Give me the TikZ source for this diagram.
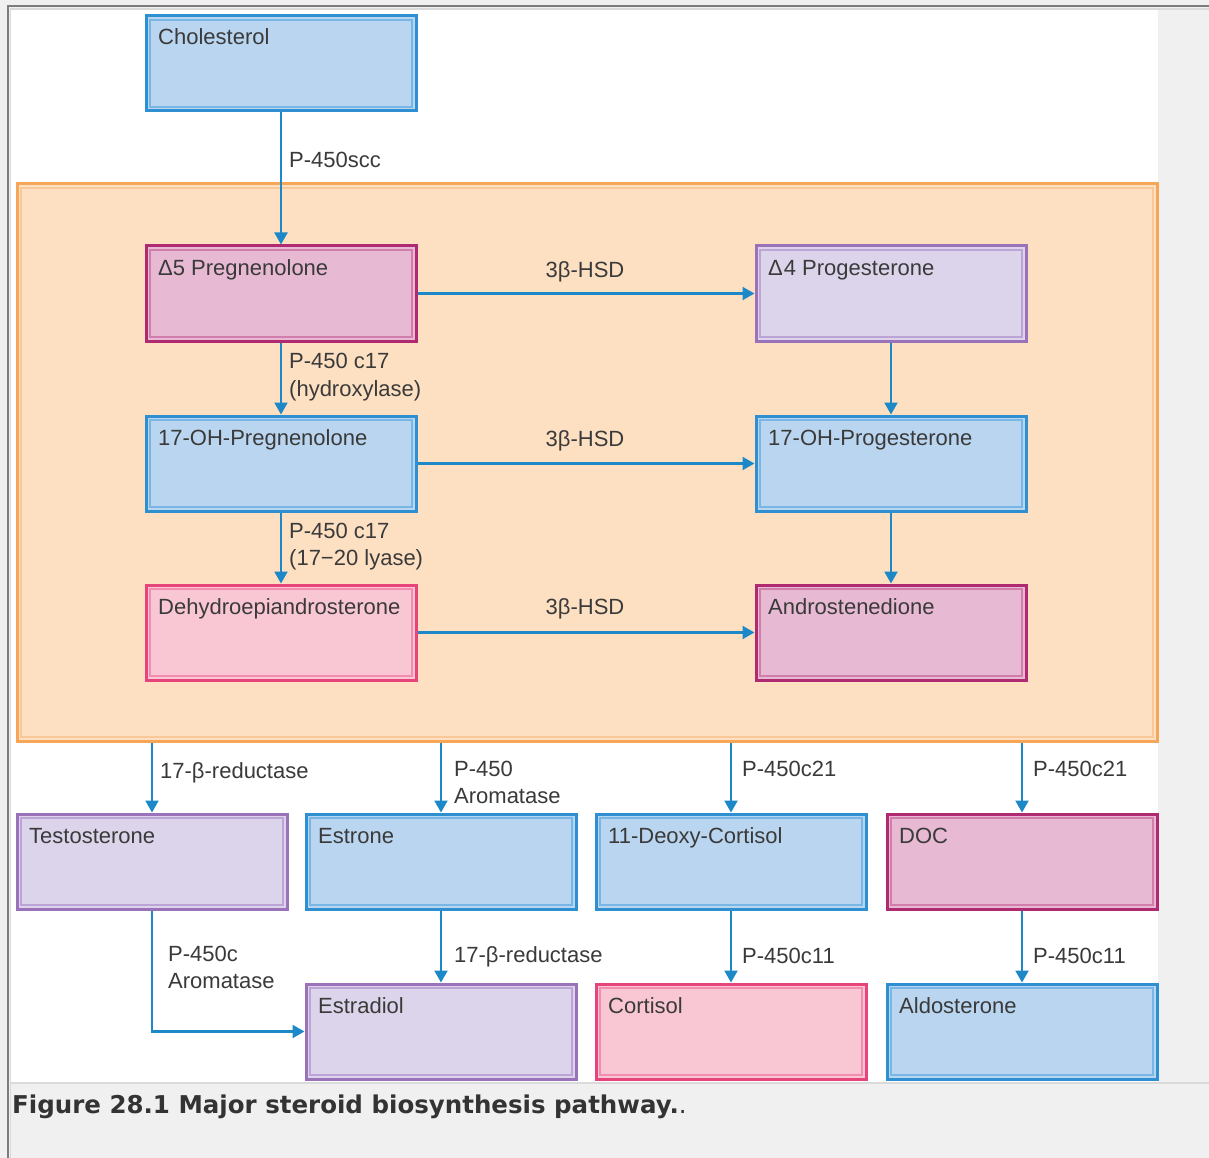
\documentclass[tikz,border=0pt]{standalone}
\usepackage{fontspec}
\setmainfont{Liberation Sans}
\newfontfamily\capfont{DejaVu Sans}
\usetikzlibrary{calc,arrows.meta}

\definecolor{bluedk}{HTML}{2E90D0}
\definecolor{bluefill}{HTML}{B9D5EF}
\definecolor{bluein}{HTML}{78B6E6}
\definecolor{magdk}{HTML}{B02A72}
\definecolor{magfill}{HTML}{E7B9D3}
\definecolor{magin}{HTML}{D27EAC}
\definecolor{purdk}{HTML}{9A72BA}
\definecolor{purfill}{HTML}{DCD4EA}
\definecolor{purin}{HTML}{BCA4D6}
\definecolor{pinkdk}{HTML}{E8447C}
\definecolor{pinkfill}{HTML}{F9C7D3}
\definecolor{pinkin}{HTML}{F28CB0}
\definecolor{ordk}{HTML}{F5A656}
\definecolor{orfill}{HTML}{FDE0C2}
\definecolor{orin}{HTML}{F8C898}
\definecolor{arrowc}{HTML}{1C88C8}
\definecolor{txt}{HTML}{3A3A3A}
\definecolor{pagegray}{HTML}{F0F0F0}
\definecolor{rulegray}{HTML}{7C7C7C}
\definecolor{rulelight}{HTML}{DADADA}

\tikzset{
  framed/.style n args={3}{rectangle, inner sep=0pt, draw=#1, fill=#2, line width=3pt,
    path picture={\draw[#3, line width=1.5pt]
      ([shift={(4pt,-4pt)}]path picture bounding box.north west) rectangle
      ([shift={(-4pt,4pt)}]path picture bounding box.south east);}},
  bluebox/.style={framed={bluedk}{bluefill}{bluein}},
  magbox/.style={framed={magdk}{magfill}{magin}},
  purbox/.style={framed={purdk}{purfill}{purin}},
  pinkbox/.style={framed={pinkdk}{pinkfill}{pinkin}},
  zonebox/.style={framed={ordk}{orfill}{orin}},
  boxtext/.style={inner sep=0pt, text=txt, font=\fontsize{22}{26}\selectfont},
  enz/.style={inner sep=0pt, text=txt, font=\fontsize{22}{26}\selectfont},
  arr/.style={draw=arrowc, line width=2.2pt, -{Triangle[length=12pt,width=13pt]}},
}

% compound box: name, left, top (pixels), colour style, label
\newcommand\mkbox[5]{%
  \node[#4, anchor=north west, minimum width=270pt, minimum height=95pt] (#1) at (#2+1.5,#3+1.5) {};
  \node[boxtext, anchor=base west] (#1-t) at ($(#1.north west)+(13.5pt,-30.5pt)$) {#5};
}

\begin{document}
\begin{tikzpicture}[x=1pt,y=-1pt]
  \useasboundingbox (0,0) rectangle (1209,1158);
  % page and panel
  \fill[pagegray] (0,0) rectangle (1209,1158);
  \fill[white] (10,9) rectangle (1158,1082);
  \draw[rulelight, line width=2pt] (10,9) -- (1209,9);
  \draw[rulelight, line width=2pt] (10,1083) -- (1209,1083);
  \draw[rulelight, line width=1.5pt] (10.5,9) -- (10.5,1158);
  \draw[rulegray, line width=2pt] (8,6) -- (1209,6);
  \draw[rulegray, line width=2pt] (8,5) -- (8,1158);

  % adrenal zone
  \node[zonebox, anchor=north west, minimum width=1140pt, minimum height=557pt] (zone) at (15.5,182.5) {};

  \mkbox{chol}{143}{13}{bluebox}{Cholesterol}
  \mkbox{preg}{143}{243}{magbox}{Δ5 Pregnenolone}
  \mkbox{prog}{753}{243}{purbox}{Δ\kern1pt4 Progesterone}
  \mkbox{ohpreg}{143}{413}{bluebox}{17-OH-Pregnenolone}
  \mkbox{ohprog}{753}{413}{bluebox}{17-OH-Progesterone}
  \mkbox{dhea}{143}{582}{pinkbox}{Dehydroepiandrosterone}
  \mkbox{andro}{753}{582}{magbox}{Androstenedione}
  \mkbox{testo}{14}{811}{purbox}{Testosterone}
  \mkbox{estrone}{303}{811}{bluebox}{Estrone}
  \mkbox{deoxy}{593}{811}{bluebox}{11-Deoxy-Cortisol}
  \mkbox{doc}{884}{811}{magbox}{DOC}
  \mkbox{estradiol}{303}{981}{purbox}{Estradiol}
  \mkbox{cortisol}{593}{981}{pinkbox}{Cortisol}
  \mkbox{aldo}{884}{981}{bluebox}{Aldosterone}

  % reactions
  \draw[arr] (chol.south) -- (preg.north);
  \draw[arr] (preg.east) -- (prog.west);
  \draw[arr] (preg.south) -- (ohpreg.north);
  \draw[arr] (prog.south) -- (ohprog.north);
  \draw[arr] (ohpreg.east) -- (ohprog.west);
  \draw[arr] (ohpreg.south) -- (dhea.north);
  \draw[arr] (ohprog.south) -- (andro.north);
  \draw[arr] (dhea.east) -- (andro.west);
  \draw[arr] (testo.north |- zone.south) -- (testo.north);
  \draw[arr] (estrone.north |- zone.south) -- (estrone.north);
  \draw[arr] (deoxy.north |- zone.south) -- (deoxy.north);
  \draw[arr] (doc.north |- zone.south) -- (doc.north);
  \draw[arr] (estrone.south) -- (estradiol.north);
  \draw[arr] (deoxy.south) -- (cortisol.north);
  \draw[arr] (doc.south) -- (aldo.north);
  \draw[arr] (testo.south) |- (estradiol.west);

  % enzyme labels
  \node[enz, anchor=base west] (e-scc) at (289,168) {P-450scc};
  \node[enz, anchor=base] (e-hsd1) at (585,277) {3β-HSD};
  \node[enz, anchor=base] (e-hsd2) at (585,446) {3β-HSD};
  \node[enz, anchor=base] (e-hsd3) at (585,614) {3β-HSD};
  \node[enz, anchor=base west] (e-c17a) at (289,368) {P-450 c17};
  \node[enz, anchor=base west] (e-c17b) at (289,396) {(hydroxylase)};
  \node[enz, anchor=base west] (e-c17c) at (289,538) {P-450 c17};
  \node[enz, anchor=base west] (e-c17d) at (289,565) {(17−20 lyase)};
  \node[enz, anchor=base west] (e-red1) at (160,778) {17-β-reductase};
  \node[enz, anchor=base west] (e-aro1) at (454,776) {P-450};
  \node[enz, anchor=base west] (e-aro2) at (454,803) {Aromatase};
  \node[enz, anchor=base west] (e-c21a) at (742,776) {P-450c21};
  \node[enz, anchor=base west] (e-c21b) at (1033,776) {P-450c21};
  \node[enz, anchor=base west] (e-red2) at (454,962) {17-β-reductase};
  \node[enz, anchor=base west] (e-c11a) at (742,963) {P-450c11};
  \node[enz, anchor=base west] (e-c11b) at (1033,963) {P-450c11};
  \node[enz, anchor=base west] (e-aro3) at (168,961) {P-450c};
  \node[enz, anchor=base west] (e-aro4) at (168,988) {Aromatase};

  % caption
  \node[anchor=base west, inner sep=0pt, text=black!80, font=\capfont\bfseries\fontsize{24.5}{28}\selectfont]
    (caption) at (12,1113) {Figure 28.1 Major steroid biosynthesis pathway.\mdseries.};
\end{tikzpicture}
\end{document}
